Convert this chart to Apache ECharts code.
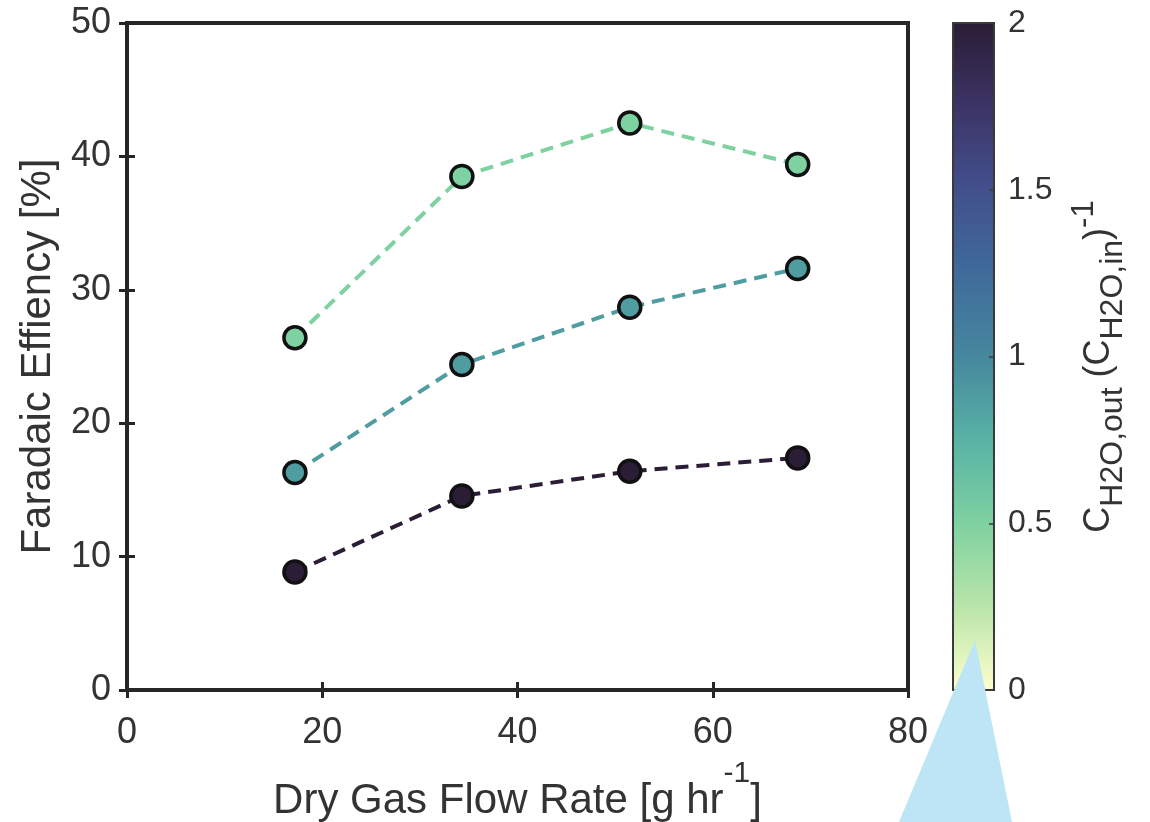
<!DOCTYPE html>
<html>
<head>
<meta charset="utf-8">
<script src="https://cdn.jsdelivr.net/npm/echarts@6/dist/echarts.min.js"></script>
<style>
  html, body { margin: 0; padding: 0; background: #ffffff; }
  #chart { width: 1150px; height: 822px; }
</style>
</head>
<body>
<div id="chart"></div>
<script>
// Dry gas flow rate [g/hr]
const flowRate = [17.2, 34.3, 51.5, 68.7];
// Faradaic efficiency [%] for each water concentration ratio
const feRatioLow  = [26.4, 38.5, 42.5, 39.4];
const feRatioMid  = [16.3, 24.4, 28.7, 31.6];
const feRatioHigh = [8.85, 14.55, 16.4, 17.4];
// C_H2O,out / C_H2O,in for each series (mapped through the colour bar)
const ratioValues = [0.5, 0.88, 2.0];
const seriesValues = [feRatioLow, feRatioMid, feRatioHigh];

// Axis ticks
const xTicks = [0, 20, 40, 60, 80];
const yTicks = [0, 10, 20, 30, 40, 50];
const cbarTicks = [0, 0.5, 1, 1.5, 2];

// Sequential colour map (light yellow -> dark purple)
const cmapStops = [
  [0.000, '#fdfecc'],
  [0.125, '#b9e5aa'],
  [0.250, '#7ed1a0'],
  [0.375, '#58b3a5'],
  [0.500, '#46879e'],
  [0.625, '#3f6b9a'],
  [0.750, '#42508c'],
  [0.875, '#3c3466'],
  [1.000, '#2a1d35']
];

function hexToRgb(h) {
  const n = parseInt(h.slice(1), 16);
  return [(n >> 16) & 255, (n >> 8) & 255, n & 255];
}
function cmap(t) {
  t = Math.max(0, Math.min(1, t));
  for (let i = 1; i < cmapStops.length; i++) {
    const [t1, c1] = cmapStops[i];
    const [t0, c0] = cmapStops[i - 1];
    if (t <= t1) {
      const f = (t - t0) / (t1 - t0);
      const a = hexToRgb(c0), b = hexToRgb(c1);
      return 'rgb(' + a.map((v, k) => Math.round(v + (b[k] - v) * f)).join(',') + ')';
    }
  }
  return cmapStops[cmapStops.length - 1][1];
}

const cMin = cbarTicks[0];
const cMax = cbarTicks[cbarTicks.length - 1];
const FONT = '"Liberation Sans", Arial, Helvetica, sans-serif';
const INK = '#262626';
const TXT = '#333333';

const chart = echarts.init(document.getElementById('chart'), null, { renderer: 'canvas' });

function tickStyle() {
  return { show: true, inside: true, length: 8, lineStyle: { color: INK, width: 3 } };
}

const lineSeries = seriesValues.map((vals, i) => {
  const col = cmap((ratioValues[i] - cMin) / (cMax - cMin));
  return {
    type: 'line',
    xAxisIndex: 0,
    yAxisIndex: 0,
    data: flowRate.map((x, j) => [x, vals[j]]),
    symbol: 'circle',
    symbolSize: 22,
    lineStyle: { color: col, width: 4, type: [13, 8] },
    itemStyle: { color: col, borderColor: '#111111', borderWidth: 3.5 },
    z: 3,
    silent: true
  };
});

const option = {
  animation: false,
  backgroundColor: '#ffffff',
  textStyle: { fontFamily: FONT },
  grid: [
    { left: 127, top: 23, width: 781, height: 667, show: true, borderColor: INK, borderWidth: 4,
      outerBoundsMode: 'none', containLabel: false },
    { left: 953, top: 23, width: 41, height: 667, show: true, borderColor: '#3a3a3a', borderWidth: 2, z: 10,
      outerBoundsMode: 'none', containLabel: false }
  ],
  xAxis: [
    {
      type: 'value', gridIndex: 0, position: 'bottom',
      min: xTicks[0], max: xTicks[xTicks.length - 1], interval: xTicks[1] - xTicks[0],
      axisLine: { show: false }, splitLine: { show: false },
      axisTick: tickStyle(),
      axisLabel: { fontSize: 36, color: TXT, margin: 25, fontFamily: FONT },
      name: 'Dry Gas Flow Rate [g hr{sup|-1}]',
      nameLocation: 'middle', nameGap: 69,
      nameTextStyle: {
        fontSize: 42, color: TXT, fontFamily: FONT, lineHeight: 84,
        rich: { sup: { fontSize: 30, color: TXT, fontFamily: FONT, verticalAlign: 'top', lineHeight: 20 } }
      }
    },
    {
      type: 'value', gridIndex: 0, position: 'top',
      min: xTicks[0], max: xTicks[xTicks.length - 1], interval: xTicks[1] - xTicks[0],
      axisLine: { show: false }, splitLine: { show: false },
      axisTick: tickStyle(), axisLabel: { show: false }
    },
    {
      type: 'category', gridIndex: 1, data: ['cbar'], show: false, boundaryGap: true
    }
  ],
  yAxis: [
    {
      type: 'value', gridIndex: 0, position: 'left',
      min: yTicks[0], max: yTicks[yTicks.length - 1], interval: yTicks[1] - yTicks[0],
      axisLine: { show: false }, splitLine: { show: false },
      axisTick: tickStyle(),
      axisLabel: { fontSize: 36, color: TXT, margin: 16, fontFamily: FONT },
      name: 'Faradaic Effiency [%]',
      nameLocation: 'middle', nameGap: 68, nameRotate: 90,
      nameTextStyle: { fontSize: 42, color: TXT, fontFamily: FONT }
    },
    {
      type: 'value', gridIndex: 0, position: 'right',
      min: yTicks[0], max: yTicks[yTicks.length - 1], interval: yTicks[1] - yTicks[0],
      axisLine: { show: false }, splitLine: { show: false },
      axisTick: tickStyle(), axisLabel: { show: false }
    },
    {
      type: 'value', gridIndex: 1, position: 'right', z: 10,
      min: cMin, max: cMax, interval: cbarTicks[1] - cbarTicks[0],
      axisLine: { show: false }, splitLine: { show: false },
      axisTick: { show: true, inside: true, length: 5, lineStyle: { color: '#3a3a3a', width: 1.5 } },
      axisLabel: { fontSize: 32, color: TXT, margin: 14, fontFamily: FONT },
      name: '{b|C}{sub|H2O,out}{b| (C}{sub|H2O,in}{b|)}{sup|-1}',
      nameLocation: 'middle', nameGap: 75, nameRotate: 90,
      nameTextStyle: {
        color: TXT, fontFamily: FONT, fontSize: 36, lineHeight: 60, padding: [0, 20, 0, 0],
        rich: {
          b:   { fontSize: 36, color: TXT, fontFamily: FONT, lineHeight: 60 },
          sub: { fontSize: 32, color: TXT, fontFamily: FONT, verticalAlign: 'bottom', lineHeight: 16 },
          sup: { fontSize: 31, color: TXT, fontFamily: FONT, verticalAlign: 'top', lineHeight: 22 }
        }
      }
    }
  ],
  series: lineSeries.concat([
    {
      type: 'bar',
      xAxisIndex: 2,
      yAxisIndex: 2,
      data: [cMax],
      barWidth: '100%',
      silent: true,
      z: 1,
      itemStyle: {
        color: new echarts.graphic.LinearGradient(0, 1, 0, 0,
          cmapStops.map(([o, c]) => ({ offset: o, color: c })))
      }
    }
  ]),
  graphic: [
    {
      type: 'polygon',
      z: 100,
      silent: true,
      shape: { points: [[975, 640], [899, 822], [1012, 822]] },
      style: { fill: '#bde5f5' }
    }
  ]
};

chart.setOption(option);
</script>
</body>
</html>
